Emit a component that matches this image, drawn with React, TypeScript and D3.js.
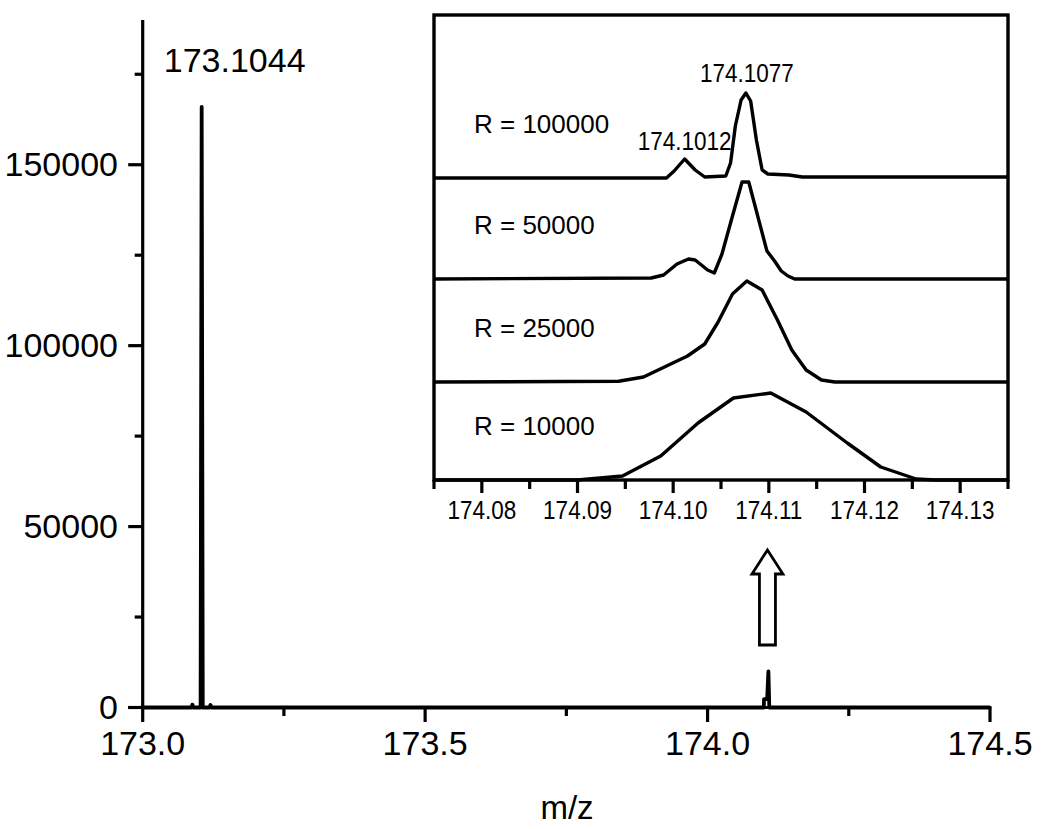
import React from "react";
import * as d3 from "d3";

// ---------- Main spectrum data ----------
const mainMz = [173.0, 173.0865, 173.088, 173.0895, 173.1025, 173.1044, 173.1063, 173.1185, 173.1200, 173.1215, 174.0995, 174.1000, 174.1055, 174.1077, 174.1093, 174.5];
const mainIntensity = [0, 0, 800, 0, 0, 166000, 0, 0, 700, 0, 0, 2300, 2300, 10000, 0, 0];

const mainXMajor = [173.0, 173.5, 174.0, 174.5];
const mainXMinor = [173.25, 173.75, 174.25];
const mainYMajor = [0, 50000, 100000, 150000];
const mainYMinor = [25000, 75000, 125000, 175000];
const mainPeakLabel = "173.1044";
const mainPeakMz = 173.1044;
const mainPeakIntensity = 166000;
const arrowMz = 174.106;

// ---------- Inset data (intensity in arbitrary units) ----------
const resolutions = ["R = 100000", "R = 50000", "R = 25000", "R = 10000"];
const traceOffsets = [302, 201, 98, 0];

const r100000Mz = [174.075, 174.0993, 174.1001, 174.1012, 174.1023, 174.1033, 174.1055, 174.1060, 174.1065, 174.1071, 174.1076, 174.1081, 174.1087, 174.1093, 174.1099, 174.1121, 174.1135, 174.135];
const r100000Int = [0, 0, 7, 19, 8, 1, 2, 15, 52, 78, 85, 77, 38, 8, 4, 3, 1, 1];

const r50000Mz = [174.075, 174.0977, 174.0990, 174.1004, 174.1016, 174.1023, 174.1036, 174.1043, 174.1051, 174.1062, 174.1072, 174.1079, 174.1098, 174.1106, 174.1113, 174.1120, 174.1127, 174.135];
const r50000Int = [0, 1, 4, 15, 20, 19, 9, 6, 25, 63, 97, 97, 28, 18, 8, 3, 0, 0];

const r25000Mz = [174.075, 174.0943, 174.0969, 174.1015, 174.1033, 174.1047, 174.1062, 174.1077, 174.1093, 174.1109, 174.1124, 174.1139, 174.1155, 174.1169, 174.135];
const r25000Int = [0, 0.7, 5, 26, 38, 60, 88, 101, 92, 62, 32, 12, 2, 0, 0];

const r10000Mz = [174.075, 174.090, 174.0947, 174.0987, 174.1026, 174.1063, 174.1102, 174.1139, 174.1182, 174.1217, 174.1254, 174.1274, 174.135];
const r10000Int = [0, 0, 4, 24, 57, 82, 87, 68, 37, 13, 1, 0, 0];

const insetMz = [r100000Mz, r50000Mz, r25000Mz, r10000Mz];
const insetInt = [r100000Int, r50000Int, r25000Int, r10000Int];

const insetXMajor = [174.08, 174.09, 174.10, 174.11, 174.12, 174.13];
const insetXMinor = [174.075, 174.085, 174.095, 174.105, 174.115, 174.125, 174.135];
const insetPeakLabels = ["174.1077", "174.1012"];
const insetPeakMz = [174.1077, 174.1012];
const insetPeakInt = [85, 19];

const FONT = "'Liberation Sans', Arial, Helvetica, sans-serif";

export default function App() {
  const xMain = d3.scaleLinear().domain([173.0, 174.5]).range([142.7, 990]);
  const yMain = d3.scaleLinear().domain([0, 190000]).range([707.5, 20]);

  const xIn = d3.scaleLinear().domain([174.075, 174.135]).range([434, 1008]);
  const yIn = d3.scaleLinear().domain([0, 465]).range([480, 15]);

  const mainLine = d3
    .line<number>()
    .x((_, i) => xMain(mainMz[i]))
    .y((d) => yMain(d));

  const insetPaths = insetMz.map((mzs, k) =>
    d3
      .line<number>()
      .x((_, i) => xIn(mzs[i]))
      .y((d) => yIn(d + traceOffsets[k]))(insetInt[k]) || ""
  );

  const y0 = yMain(0);
  const ax = xMain(173.0);

  // arrow geometry
  const axc = xMain(arrowMz);
  const tipY = 550;
  const headY = 574;
  const botY = 645;
  const arrowPath = `M${axc},${tipY} L${axc + 15.5},${headY} L${axc + 8},${headY} L${axc + 8},${botY} L${axc - 8},${botY} L${axc - 8},${headY} L${axc - 15.5},${headY} Z`;

  return (
    <svg
      width={1050}
      height={829}
      style={{ position: "absolute", left: 0, top: 0, background: "#fff" }}
      fontFamily={FONT}
    >
      <rect x={0} y={0} width={1050} height={829} fill="#fff" />

      {/* Main axes */}
      <line x1={ax} y1={yMain(190000)} x2={ax} y2={y0 + 1.5} stroke="#000" strokeWidth={3.2} />
      <line x1={128.3} y1={y0} x2={xMain(174.5) + 1.5} y2={y0} stroke="#000" strokeWidth={3.2} />
      {mainYMajor.map((v) => (
        <g key={"ym" + v}>
          <line x1={ax - 14.5} x2={ax} y1={yMain(v)} y2={yMain(v)} stroke="#000" strokeWidth={3.2} />
          <text x={118} y={yMain(v) + 11.5} fontSize={34} textAnchor="end" fill="#000">
            {v}
          </text>
        </g>
      ))}
      {mainYMinor.map((v) => (
        <line key={"yn" + v} x1={ax - 8} x2={ax} y1={yMain(v)} y2={yMain(v)} stroke="#000" strokeWidth={3.2} />
      ))}
      {mainXMajor.map((v) => (
        <g key={"xm" + v}>
          <line x1={xMain(v)} x2={xMain(v)} y1={y0} y2={y0 + 14.5} stroke="#000" strokeWidth={3.2} />
          <text x={xMain(v)} y={755} fontSize={34} textAnchor="middle" fill="#000">
            {v.toFixed(1)}
          </text>
        </g>
      ))}
      {mainXMinor.map((v) => (
        <line key={"xn" + v} x1={xMain(v)} x2={xMain(v)} y1={y0} y2={y0 + 8.5} stroke="#000" strokeWidth={3.2} />
      ))}
      <text x={567} y={819} fontSize={33} textAnchor="middle" fill="#000">
        m/z
      </text>

      {/* Main spectrum */}
      <path d={mainLine(mainIntensity) || ""} fill="none" stroke="#000" strokeWidth={3.8} strokeLinejoin="round" />
      <text
        x={xMain(mainPeakMz) + 33}
        y={yMain(mainPeakIntensity) - 35}
        fontSize={34}
        textAnchor="middle"
        fill="#000"
      >
        {mainPeakLabel}
      </text>

      {/* Arrow */}
      <path d={arrowPath} fill="#fff" stroke="#000" strokeWidth={2.8} strokeLinejoin="miter" />

      {/* Inset */}
      <rect x={xIn(174.075)} y={yIn(465)} width={xIn(174.135) - xIn(174.075)} height={yIn(0) - yIn(465)} fill="#fff" stroke="none" />
      {insetPaths.map((d, k) => (
        <path key={"tr" + k} d={d} fill="none" stroke="#000" strokeWidth={3.4} strokeLinejoin="round" />
      ))}
      <rect
        x={xIn(174.075)}
        y={yIn(465)}
        width={xIn(174.135) - xIn(174.075)}
        height={yIn(0) - yIn(465)}
        fill="none"
        stroke="#000"
        strokeWidth={3.4}
      />
      {insetXMajor.map((v) => (
        <g key={"ixm" + v}>
          <line x1={xIn(v)} x2={xIn(v)} y1={yIn(0)} y2={yIn(0) + 13} stroke="#000" strokeWidth={3.2} />
          <text
            transform={`translate(${xIn(v)},519) scale(0.9,1)`}
            fontSize={25}
            textAnchor="middle"
            fill="#000"
          >
            {v.toFixed(2)}
          </text>
        </g>
      ))}
      {insetXMinor.map((v) => (
        <line key={"ixn" + v} x1={xIn(v)} x2={xIn(v)} y1={yIn(0)} y2={yIn(0) + 9} stroke="#000" strokeWidth={3.2} />
      ))}
      {resolutions.map((r, k) => (
        <text key={r} x={474} y={yIn(traceOffsets[k] + 45)} fontSize={26} fill="#000">
          {r}
        </text>
      ))}
      {insetPeakLabels.map((lab, k) => (
        <text
          key={lab}
          transform={`translate(${xIn(insetPeakMz[k])},${yIn(traceOffsets[0] + insetPeakInt[k]) - (k === 0 ? 11 : 9)}) scale(0.9,1)`}
          fontSize={25}
          textAnchor="middle"
          fill="#000"
        >
          {lab}
        </text>
      ))}
    </svg>
  );
}
